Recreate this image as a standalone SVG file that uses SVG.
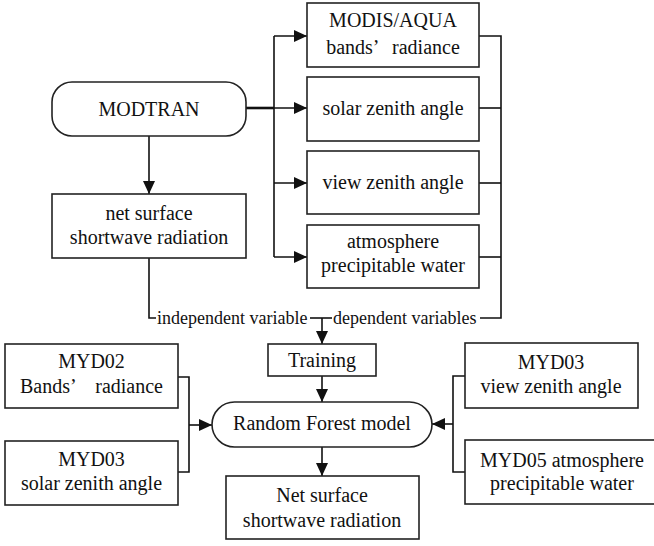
<svg xmlns="http://www.w3.org/2000/svg" width="654" height="546" viewBox="0 0 654 546">
<defs>
<marker id="ah" markerUnits="userSpaceOnUse" markerWidth="14" markerHeight="12" refX="13" refY="6" orient="auto">
<path d="M0,0 L13,6 L0,12 z" fill="#111"/>
</marker>
</defs>
<rect width="654" height="546" fill="#fff"/>
<g id="connectors" fill="none" stroke="#111" stroke-width="1.6">
<path d="M149,136 V194" marker-end="url(#ah)"/>
<path d="M246,108 H274" stroke-width="2.6"/>
<path d="M274,36 V257"/>
<path d="M274,36 H307" marker-end="url(#ah)"/>
<path d="M274,108 H307" marker-end="url(#ah)"/>
<path d="M274,183 H307" marker-end="url(#ah)"/>
<path d="M274,257 H307" marker-end="url(#ah)"/>
<path d="M479,36 H501 V318 H480"/>
<path d="M479,108 H501"/>
<path d="M479,183 H501"/>
<path d="M479,257 H501"/>
<path d="M149,258 V318 H156"/>
<path d="M310,318 H332"/>
<path d="M322,318 V344" marker-end="url(#ah)"/>
<path d="M322,376 V402" marker-end="url(#ah)"/>
<path d="M322,447 V476" marker-end="url(#ah)"/>
<path d="M178,377 H189 V472 H178"/>
<path d="M189,425 H212" marker-end="url(#ah)"/>
<path d="M465,376 H453 V472 H465"/>
<path d="M453,424 H432" marker-end="url(#ah)"/>
</g>
<g id="edge-labels" font-family="Liberation Serif" font-size="18" fill="#111">
<text x="157" y="324">independent variable</text>
<text x="333" y="324">dependent variables</text>
</g>
<g fill="#fff" stroke="#222" stroke-width="1.6">
<rect id="modtran-shape" x="52" y="82" width="194" height="54" rx="20"/>
<rect x="52" y="194" width="194" height="64"/>
<rect x="307" y="3" width="172" height="64"/>
<rect x="307" y="77" width="172" height="64"/>
<rect x="307" y="151" width="172" height="63"/>
<rect x="307" y="225" width="172" height="63"/>
<rect x="268" y="344" width="108" height="32"/>
<rect x="212" y="402" width="220" height="45" rx="22.5"/>
<rect x="226" y="476" width="193" height="63"/>
<rect x="5" y="344" width="173" height="64"/>
<rect x="5" y="441" width="173" height="64"/>
<rect x="465" y="343" width="173" height="65"/>
<rect x="465" y="440" width="194" height="64"/>
</g>
<g font-family="Liberation Serif" font-size="20" fill="#111" text-anchor="middle">
<g id="modtran"><text x="149" y="116">MODTRAN</text></g>
<g id="net-surface"><text x="149" y="220">net surface</text><text x="149" y="244">shortwave radiation</text></g>
<g id="modis-aqua"><text x="393" y="27">MODIS/AQUA</text><text x="393" y="54">bands’<tspan dx="9"> radiance</tspan></text></g>
<g id="solar-zenith"><text x="393" y="115">solar zenith angle</text></g>
<g id="view-zenith"><text x="393" y="189">view zenith angle</text></g>
<g id="precip-water"><text x="393" y="248">atmosphere</text><text x="393" y="272">precipitable water</text></g>
<g id="training"><text x="322" y="367">Training</text></g>
<g id="random-forest"><text x="322" y="430">Random Forest model</text></g>
<g id="net-output"><text x="322" y="502">Net surface</text><text x="322" y="527">shortwave radiation</text></g>
<g id="myd02"><text x="91.5" y="368">MYD02</text><text x="91.5" y="393">Bands’<tspan dx="15"> radiance</tspan></text></g>
<g id="myd03-solar"><text x="91.5" y="466">MYD03</text><text x="91.5" y="490">solar zenith angle</text></g>
<g id="myd03-view"><text x="551" y="369">MYD03</text><text x="551" y="393">view zenith angle</text></g>
<g id="myd05"><text x="562" y="467">MYD05 atmosphere</text><text x="562" y="490">precipitable water</text></g>
</g>
</svg>
